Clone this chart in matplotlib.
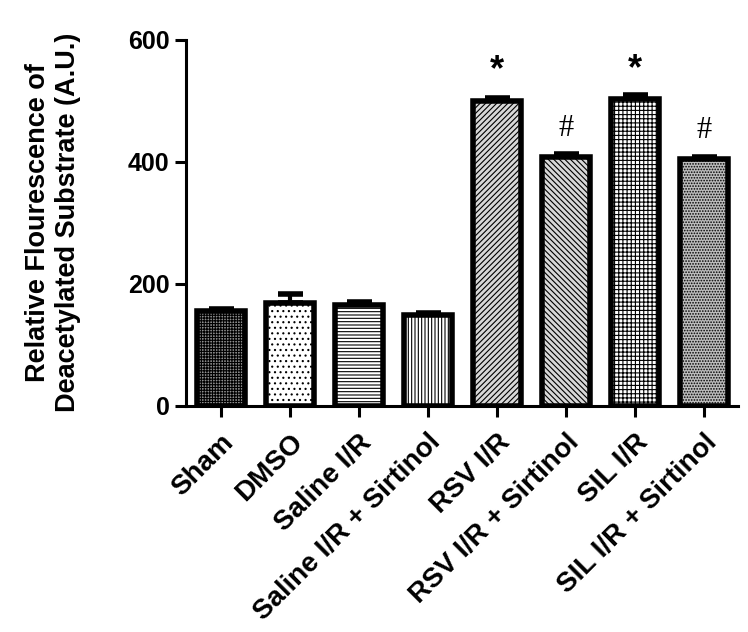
import numpy as np
import matplotlib.pyplot as plt

plt.rcParams['font.family'] = ['Liberation Sans', 'DejaVu Sans']
plt.rcParams['hatch.linewidth'] = 0.8

groups = ['Sham', 'DMSO', 'Saline I/R', 'Saline I/R + Sirtinol', 'RSV I/R',
          'RSV I/R + Sirtinol', 'SIL I/R', 'SIL I/R + Sirtinol']
means = [156, 169, 166, 149, 500, 408, 503, 405]
errors = [2, 14, 4, 3, 4, 5, 6, 3]
marks = ['', '', '', '', '*', '#', '*', '#']

faces = ['#8f8f8f', 'white', 'white', 'white', '#d8d8d8', '#d8d8d8', 'white', '#bdbdbd']
hatches = ['++++++', '...', '-----', '|||||', '//////', '\\\\\\\\\\\\', '++++', '......']

fig = plt.figure(figsize=(7.48, 6.32), dpi=100)
ax = fig.add_axes([0.249, 0.358, 0.738, 0.579])

x = np.arange(len(groups))
for i in range(len(groups)):
    ax.bar(x[i], means[i], width=0.7, color=faces[i], edgecolor='black',
           linewidth=4, hatch=hatches[i], zorder=2)
    ax.errorbar(x[i], means[i], yerr=[[0], [errors[i]]], fmt='none', ecolor='black',
                elinewidth=3, capsize=9, capthick=4, zorder=1)
    if marks[i] == '*':
        ax.text(x[i], means[i] + 20, '*', ha='center', va='bottom',
                fontsize=26, fontweight='bold')
    elif marks[i] == '#':
        ax.text(x[i], means[i] + 22, '#', ha='center', va='bottom',
                fontsize=22, family='Liberation Serif')

ax.set_xlim(-0.5, 7.5)
ax.set_ylim(0, 600)
ax.set_yticks([0, 200, 400, 600])
ax.set_xticks(x)
ax.set_xticklabels(groups, rotation=45, ha='right', rotation_mode='anchor',
                   fontsize=20, fontweight='bold')
for lab in ax.get_yticklabels():
    lab.set_fontweight('bold')
    lab.set_fontsize(18)
ax.tick_params(width=2.2, length=8, direction='out', pad=4)
ax.tick_params(axis='x', pad=9)
ax.spines['top'].set_visible(False)
ax.spines['right'].set_visible(False)
ax.spines['left'].set_linewidth(2.2)
ax.spines['bottom'].set_linewidth(2.2)
ax.set_ylabel('Relative Flourescence of\nDeacetylated Substrate (A.U.)',
              fontsize=19.5, fontweight='bold', labelpad=34)

fig.savefig('out.png', dpi=100)
